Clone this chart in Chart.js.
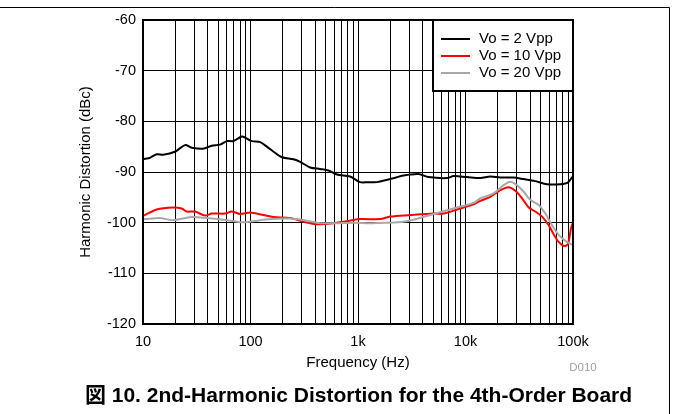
<!DOCTYPE html>
<html><head><meta charset="utf-8">
<style>html,body{margin:0;padding:0;background:#fff;}#wrap{position:relative;width:673px;height:414px;overflow:hidden;}</style>
<script src="https://cdn.jsdelivr.net/npm/chart.js@4.4.1/dist/chart.umd.min.js"></script>
</head><body><div id="wrap"><canvas id="c" width="673" height="414"></canvas></div>
<script>
// ---- data (frequency in Hz, distortion in dBc) ----
const seriesLabels = ['Vo = 2 Vpp', 'Vo = 10 Vpp', 'Vo = 20 Vpp'];
const blackFreq = [10,10.4,11.6,13.4,15.4,19.8,24.6,28.4,36.2,43.6,52.2,60.2,68.8,83,89,103,123,142,169,196,251,290,359,445,531,637,845,1047,1253,1500,1995,2655,3660,4530,6725,7750,10300,13740,17020,21090,28050,34750,44670,57410,76350,89300,100000];
const blackDb = [-87.5,-87.4,-87.2,-86.5,-86.6,-86.0,-84.7,-85.2,-85.4,-84.8,-84.6,-83.9,-83.9,-83.0,-83.2,-83.9,-84.1,-85.0,-86.2,-87.1,-87.5,-88.0,-89.1,-89.4,-89.7,-90.5,-90.9,-92.0,-92.0,-92.0,-91.4,-90.7,-90.4,-91.0,-91.2,-90.8,-91.0,-91.2,-90.9,-91.1,-91.1,-91.4,-91.8,-92.4,-92.4,-92.1,-90.8];
const redFreq = [10,10.4,13.4,19.0,22.9,25.5,30.5,37.8,43.6,57.9,66.9,80,99,132,163,234,311,414,591,845,1047,1611,1995,3060,5050,6250,8340,11890,13740,17020,21090,25180,29100,33590,38730,44670,51520,59430,66070,73620,81870,89300,95940,100000];
const redDb = [-98.6,-98.5,-97.4,-97.0,-97.2,-97.8,-97.8,-98.6,-98.2,-98.2,-97.8,-98.3,-98.0,-98.5,-98.9,-99.1,-99.8,-100.3,-100.1,-99.6,-99.3,-99.3,-98.8,-98.5,-98.2,-98.2,-97.4,-96.4,-95.7,-94.9,-93.6,-93.0,-93.7,-95.2,-97.0,-97.8,-98.8,-100.5,-102.3,-103.8,-104.6,-104.3,-101.1,-100.0];
const grayFreq = [10,10.4,14.4,19.0,28.4,39.2,60.2,80,99,152,234,334,445,637,908,1393,2850,5050,7750,11890,13740,18280,22650,26140,30200,34750,40090,47960,55340,63800,73620,84920,94660,100000];
const grayDb = [-99.3,-99.3,-99.1,-99.5,-98.9,-99.1,-99.5,-99.9,-99.8,-99.3,-99.2,-99.6,-100.1,-100.1,-100.0,-100.1,-99.7,-98.3,-97.2,-96.1,-95.2,-94.2,-92.6,-91.9,-92.6,-93.9,-95.5,-96.5,-98.2,-100.5,-102.4,-103.6,-104.2,-104.4];
const seriesColors = ['#000000', '#ff0000', '#a8a8a8'];
const xTickValues = [10, 100, 1000, 10000, 100000];
const xTickLabels = ['10', '100', '1k', '10k', '100k'];
const yMin = -120, yMax = -60, yStep = 10;
const xTitle = 'Frequency (Hz)';
const yTitle = 'Harmonic Distortion (dBc)';
const caption = '図 10. 2nd-Harmonic Distortion for the 4th-Order Board';
const figId = 'D010';

const FONT = '"Liberation Sans", Arial, Helvetica, sans-serif';
Chart.defaults.font.family = FONT;
Chart.defaults.color = '#000';

function pts(xs, ys) { return xs.map((x, i) => ({ x: x, y: ys[i] })); }

const deco = {
  id: 'deco',
  afterDraw(chart) {
    const ctx = chart.ctx, a = chart.chartArea;
    ctx.save();
    // plot frame
    ctx.strokeStyle = '#000'; ctx.lineWidth = 2;
    ctx.strokeRect(a.left, a.top, a.right - a.left, a.bottom - a.top);
    // outer figure frame
    ctx.lineWidth = 1;
    ctx.beginPath(); ctx.moveTo(0, 7.5); ctx.lineTo(669.5, 7.5); ctx.lineTo(669.5, 414); ctx.stroke();
    // legend
    const lx = a.right - 140, ly = a.top, lw = 140, lh = 71;
    ctx.fillStyle = '#fff'; ctx.fillRect(lx, ly, lw, lh);
    ctx.lineWidth = 2; ctx.strokeRect(lx, ly, lw, lh);
    ctx.font = '15px ' + FONT; ctx.textBaseline = 'middle'; ctx.textAlign = 'left';
    seriesLabels.forEach((lab, i) => {
      const yy = ly + 19 + i * 17;
      ctx.strokeStyle = seriesColors[i]; ctx.lineWidth = 2;
      ctx.beginPath(); ctx.moveTo(lx + 8, yy); ctx.lineTo(lx + 37, yy); ctx.stroke();
      ctx.fillStyle = '#000'; ctx.fillText(lab, lx + 46, yy);
    });
    // axis titles
    ctx.fillStyle = '#000'; ctx.font = '15px ' + FONT;
    ctx.textAlign = 'center'; ctx.textBaseline = 'alphabetic';
    ctx.fillText(xTitle, (a.left + a.right) / 2, 367);
    ctx.save(); ctx.translate(90, (a.top + a.bottom) / 2); ctx.rotate(-Math.PI / 2);
    ctx.textBaseline = 'alphabetic'; ctx.fillText(yTitle, 0, 0); ctx.restore();
    // figure id
    ctx.fillStyle = '#a0a0a0'; ctx.font = '11.5px ' + FONT; ctx.textBaseline = 'middle';
    ctx.fillText(figId, 583, 368);
    // caption
    ctx.fillStyle = '#000'; ctx.font = 'bold 21px ' + FONT + ', "Noto Sans CJK JP"';
    ctx.textBaseline = 'alphabetic';
    ctx.fillText(caption, 358.5, 401.5);
    ctx.restore();
  }
};

new Chart(document.getElementById('c'), {
  type: 'line',
  data: {
    datasets: [
      { label: seriesLabels[2], data: pts(grayFreq, grayDb), borderColor: seriesColors[2] },
      { label: seriesLabels[1], data: pts(redFreq, redDb), borderColor: seriesColors[1] },
      { label: seriesLabels[0], data: pts(blackFreq, blackDb), borderColor: seriesColors[0] }
    ].map(d => Object.assign(d, { borderWidth: 2, pointRadius: 0, tension: 0.3, fill: false }))
  },
  options: {
    responsive: false, animation: false, devicePixelRatio: 1,
    layout: { padding: { left: 0, right: 100, top: 20, bottom: 0 } },
    plugins: { legend: { display: false }, tooltip: { enabled: false } },
    scales: {
      x: {
        type: 'logarithmic', min: 10, max: 100000,
        afterBuildTicks(s) {
          const t = [];
          for (let d = 10; d < 100000; d *= 10) for (let m = 1; m < 10; m++) t.push({ value: d * m });
          t.push({ value: 100000 });
          s.ticks = t;
        },
        afterFit(s) { s.height = 90; },
        grid: { color: '#000', lineWidth: 1, drawTicks: false },
        border: { display: false },
        ticks: {
          autoSkip: false, maxRotation: 0, padding: 9, font: { size: 14.5 }, color: '#000',
          callback(v) { const k = xTickValues.indexOf(v); return k >= 0 ? xTickLabels[k] : ''; }
        }
      },
      y: {
        min: yMin, max: yMax,
        afterFit(s) { s.width = 143; },
        grid: { color: '#000', lineWidth: 1, drawTicks: false },
        border: { display: false },
        ticks: { stepSize: yStep, padding: 7, font: { size: 14.5 }, color: '#000' }
      }
    }
  },
  plugins: [deco]
});
</script>
</body></html>
